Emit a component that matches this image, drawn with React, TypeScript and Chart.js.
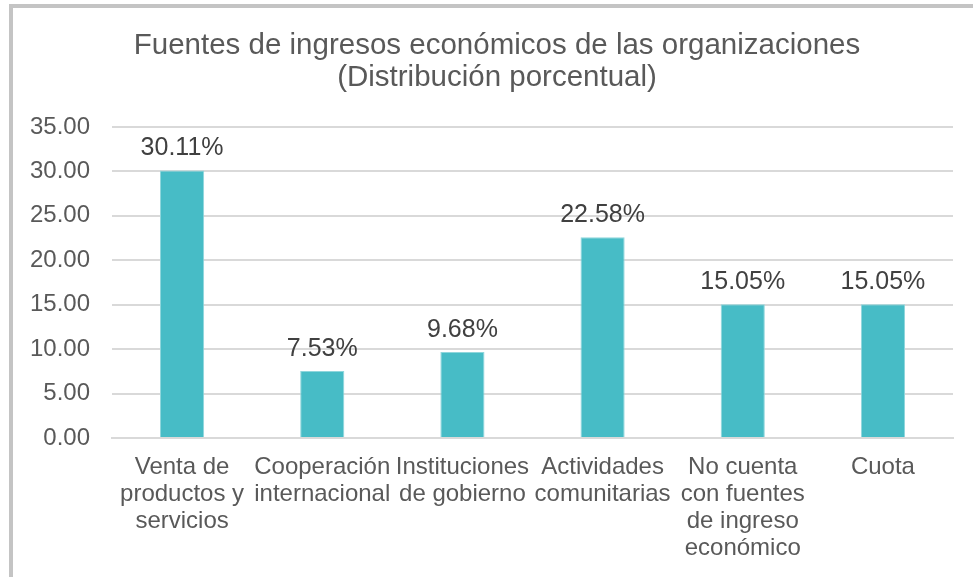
import React, { useEffect, useRef } from "react";
import { Chart, registerables } from "chart.js";

Chart.register(...registerables);

const categories: string[][] = [
  ["Venta de", "productos y", "servicios"],
  ["Cooperación", "internacional"],
  ["Instituciones", "de gobierno"],
  ["Actividades", "comunitarias"],
  ["No cuenta", "con fuentes", "de ingreso", "económico"],
  ["Cuota"],
];
const values: number[] = [30.11, 7.53, 9.68, 22.58, 15.05, 15.05];
const titleLines: string[] = [
  "Fuentes de ingresos económicos de las organizaciones",
  "(Distribución porcentual)",
];
const yMin = 0;
const yMax = 35;
const yStep = 5;

const FONT = "'Liberation Sans', Arial, sans-serif";

const dataLabelPlugin = {
  id: "dataLabels",
  afterDatasetsDraw(chart: any) {
    const ctx = chart.ctx;
    const meta = chart.getDatasetMeta(0);
    ctx.save();
    ctx.font = `25px ${FONT}`;
    ctx.fillStyle = "#404040";
    ctx.textAlign = "center";
    ctx.textBaseline = "alphabetic";
    meta.data.forEach((bar: any, i: number) => {
      const v = chart.data.datasets[0].data[i] as number;
      ctx.fillText(v.toFixed(2) + "%", bar.x, bar.y - 15);
    });
    ctx.restore();
  },
};

// Title drawn centred over the chart frame (which starts at the left border)
const titlePlugin = {
  id: "frameTitle",
  afterDraw(chart: any) {
    const ctx = chart.ctx;
    ctx.save();
    ctx.font = `29.5px ${FONT}`;
    ctx.fillStyle = "#595959";
    ctx.textAlign = "center";
    ctx.textBaseline = "middle";
    const cx = (41 + chart.chartArea.right) / 2;
    titleLines.forEach((line, i) => {
      ctx.fillText(line, cx, 45.5 + i * 32);
    });
    ctx.restore();
  },
};

export default function App() {
  const ref = useRef<HTMLCanvasElement | null>(null);
  useEffect(() => {
    if (!ref.current) return;
    const chart = new Chart(ref.current, {
      type: "bar",
      data: {
        labels: categories,
        datasets: [
          {
            data: values,
            backgroundColor: "#47bcc6",
            borderColor: "#8fd6dc",
            borderWidth: 1,
            barPercentage: 0.315,
            categoryPercentage: 1,
          },
        ],
      },
      options: {
        responsive: false,
        animation: false,
        layout: { padding: { top: 127, left: 0, right: 20, bottom: 0 } },
        plugins: {
          legend: { display: false },
          tooltip: { enabled: false },
          title: { display: false },
        },
        scales: {
          x: {
            grid: { display: false, drawTicks: false },
            border: { color: "#d9d9d9", width: 2 },
            ticks: {
              color: "#595959",
              font: { family: FONT, size: 24, lineHeight: 1.125 },
              autoSkip: false,
              maxRotation: 0,
              minRotation: 0,
              padding: 16,
            },
            afterFit: (scale: any) => {
              scale.height = 139;
            },
          },
          y: {
            min: yMin,
            max: yMax,
            grid: { color: "#d9d9d9", lineWidth: 2, drawTicks: false },
            border: { display: false },
            ticks: {
              stepSize: yStep,
              color: "#595959",
              font: { family: FONT, size: 24 },
              padding: 22,
              callback: (v: any) => Number(v).toFixed(2),
            },
            afterFit: (scale: any) => {
              scale.width = 112;
            },
          },
        },
      },
      plugins: [dataLabelPlugin, titlePlugin],
    });
    return () => chart.destroy();
  }, []);

  return (
    <div style={{ position: "absolute", left: 0, top: 0, width: 973, height: 577, background: "#fff", overflow: "hidden" }}>
      <canvas ref={ref} width={973} height={577} style={{ position: "absolute", left: 0, top: 0 }} />
      <div
        style={{
          position: "absolute",
          left: 9,
          top: 4,
          width: 973,
          height: 600,
          borderLeft: "4px solid #c4c4c4",
          borderTop: "4px solid #c4c4c4",
          pointerEvents: "none",
        }}
      />
    </div>
  );
}
